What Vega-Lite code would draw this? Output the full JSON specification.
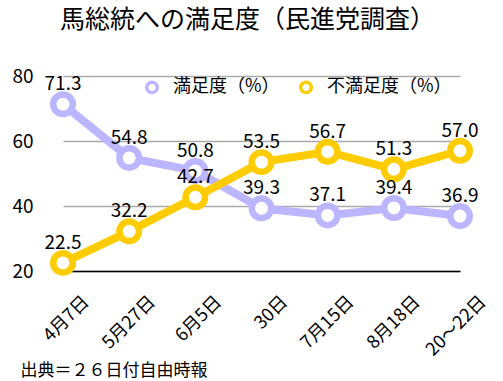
{
  "$schema": "https://vega.github.io/schema/vega-lite/v6.json",
  "width": 397,
  "height": 195,
  "autosize": {"type": "none"},
  "padding": {"left": 63, "top": 76, "right": 43, "bottom": 110},
  "background": "white",
  "config": {
    "view": {"stroke": null},
    "font": "Noto Sans CJK JP"
  },
  "title": {
    "text": "馬総統への満足度（民進党調査）",
    "fontSize": 25,
    "fontWeight": "normal",
    "color": "#000000",
    "anchor": "middle",
    "dx": -14,
    "offset": 34,
    "font": "Noto Sans CJK JP"
  },
  "data": {
    "values": [
      {"date": "4月7日", "series": "満足度（%）", "value": 71.3},
      {"date": "5月27日", "series": "満足度（%）", "value": 54.8},
      {"date": "6月5日", "series": "満足度（%）", "value": 50.8},
      {"date": "30日", "series": "満足度（%）", "value": 39.3},
      {"date": "7月15日", "series": "満足度（%）", "value": 37.1},
      {"date": "8月18日", "series": "満足度（%）", "value": 39.4},
      {"date": "20～22日", "series": "満足度（%）", "value": 36.9},
      {"date": "4月7日", "series": "不満足度（%）", "value": 22.5},
      {"date": "5月27日", "series": "不満足度（%）", "value": 32.2},
      {"date": "6月5日", "series": "不満足度（%）", "value": 42.7},
      {"date": "30日", "series": "不満足度（%）", "value": 53.5},
      {"date": "7月15日", "series": "不満足度（%）", "value": 56.7},
      {"date": "8月18日", "series": "不満足度（%）", "value": 51.3},
      {"date": "20～22日", "series": "不満足度（%）", "value": 57.0}
    ]
  },
  "encoding": {
    "x": {
      "field": "date",
      "type": "ordinal",
      "sort": null,
      "scale": {"type": "point", "padding": 0},
      "axis": {
        "title": "出典＝２６日付自由時報",
        "titleFontSize": 17,
        "titleFontWeight": "normal",
        "titleColor": "#000000",
        "titleAlign": "left",
        "titleBaseline": "alphabetic",
        "titleX": -43,
        "titleY": 104,
        "labelAngle": -45,
        "labelAlign": "right",
        "labelBaseline": "middle",
        "labelFontSize": 18,
        "labelColor": "#000000",
        "labelPadding": 28,
        "labelOffset": 23,
        "ticks": false,
        "domainColor": "#000000",
        "domainWidth": 1.5,
        "grid": false
      }
    },
    "y": {
      "field": "value",
      "type": "quantitative",
      "scale": {"domain": [20, 80], "nice": false, "zero": false},
      "axis": {
        "title": null,
        "values": [20, 40, 60, 80],
        "labelFontSize": 19,
        "labelColor": "#000000",
        "labelPadding": 30,
        "domain": false,
        "ticks": false,
        "grid": true,
        "gridColor": "#aaaaaa",
        "gridWidth": 1.3
      }
    },
    "color": {
      "field": "series",
      "type": "nominal",
      "sort": ["満足度（%）", "不満足度（%）"],
      "scale": {"domain": ["満足度（%）", "不満足度（%）"], "range": ["#BBB6FF", "#FFCC00"]},
      "legend": {
        "title": null,
        "orient": "none",
        "legendX": 80,
        "legendY": 2,
        "direction": "horizontal",
        "columns": 2,
        "columnPadding": 13,
        "labelFontSize": 18,
        "labelColor": "#000000",
        "labelOffset": 12,
        "symbolType": "circle",
        "symbolSize": 110,
        "symbolStrokeWidth": 3.5,
        "symbolFillColor": "white"
      }
    }
  },
  "layer": [
    {
      "mark": {"type": "line", "strokeWidth": 8}
    },
    {
      "mark": {"type": "point", "shape": "circle", "filled": false, "fill": "white", "fillOpacity": 1, "opacity": 1, "strokeWidth": 6.5, "size": 380}
    },
    {
      "mark": {"type": "text", "dy": -14, "baseline": "alphabetic", "fontSize": 19, "color": "#000000"},
      "encoding": {
        "text": {"field": "value", "type": "quantitative", "format": ".1f"},
        "color": {"value": "#000000"}
      }
    }
  ]
}
